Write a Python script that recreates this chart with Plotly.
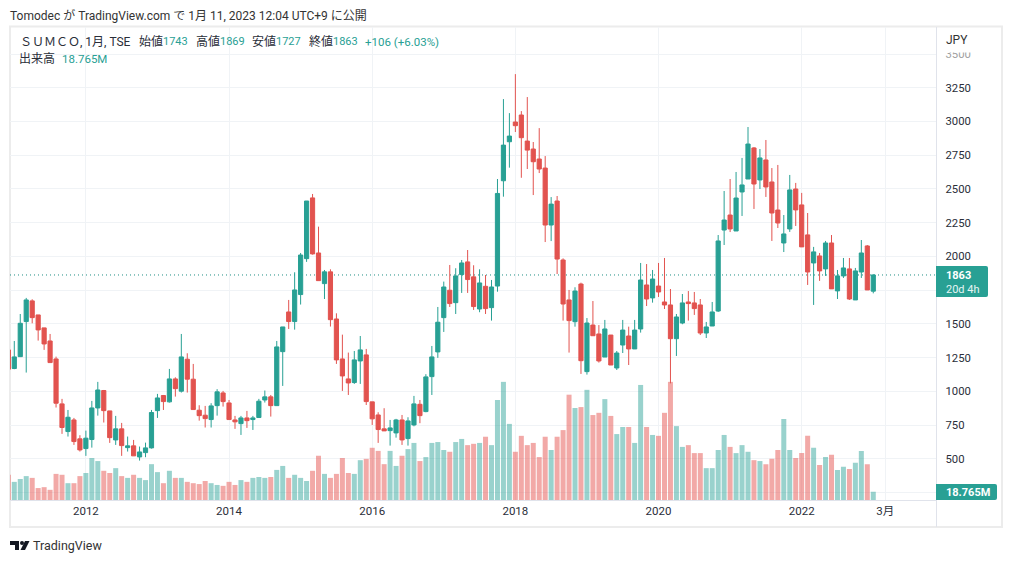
import plotly.graph_objects as go

# monthly bars, Dec 2010 .. Jan 2023
opens = [1308,
    1170, 1258, 1518, 1671, 1567, 1471, 1374, 1241, 908, 703, 789, 649,
    577, 644, 878, 1007, 856, 641, 723, 584, 597, 515, 547, 582,
    858, 970, 923, 1093, 1002, 1239, 1091, 861, 824, 792, 895, 989,
    915, 789, 762, 804, 792, 807, 937, 960, 895, 1295, 1589, 1518,
    1718, 1984, 2434, 2026, 1799, 1886, 1537, 1241, 1093, 1066, 1226, 1271,
    923, 826, 723, 710, 693, 789, 651, 752, 905, 851, 1110, 1293,
    1547, 1750, 1658, 1866, 1960, 1849, 1611, 1779, 1621, 1781, 2561, 2850,
    2996, 3048, 2855, 2796, 2722, 2655, 2233, 2411, 1974, 1678, 1517, 1796,
    1147, 1492, 1426, 1255, 1418, 1174, 1344, 1411, 1315, 1463, 1789, 1693,
    1781, 1663, 1641, 1391, 1507, 1663, 1656, 1641, 1433, 1485, 1596, 2196,
    2307, 2189, 2478, 2574, 2804, 2567, 2715, 2552, 2344, 2100, 2204, 2500,
    2382, 2160, 1952, 2004, 1908, 2100, 1745, 1856, 1908, 1678, 1885, 2078,
    1743]
highs = [1320,
    1374, 1574, 1693, 1683, 1567, 1472, 1426, 1258, 945, 863, 804, 676,
    710, 930, 1071, 1011, 856, 819, 767, 666, 641, 592, 621, 863,
    982, 974, 1167, 1105, 1426, 1283, 1204, 898, 893, 913, 1017, 1004,
    937, 819, 819, 856, 819, 945, 1007, 974, 1374, 1478, 1678, 1883,
    2026, 2411, 2463, 2221, 1900, 1905, 1579, 1421, 1288, 1300, 1411, 1315,
    923, 846, 876, 789, 797, 826, 809, 967, 937, 1128, 1337, 1626,
    1814, 1937, 1913, 1974, 2048, 1935, 1905, 1863, 1826, 2574, 3166, 3062,
    3351, 3077, 3181, 2848, 2951, 2744, 2440, 2448, 1986, 1752, 1772, 1806,
    1544, 1670, 1492, 1530, 1418, 1300, 1530, 1480, 1530, 1952, 1944, 1900,
    1952, 1989, 1759, 1574, 1722, 1744, 1737, 1685, 1515, 1663, 2159, 2485,
    2574, 2626, 2730, 2959, 2811, 2796, 2863, 2655, 2678, 2307, 2604, 2545,
    2471, 2322, 2071, 2026, 2115, 2159, 1900, 1989, 1989, 1915, 2122, 2085,
    1869]
lows = [1160,
    1165, 1255, 1140, 1505, 1377, 1308, 1214, 881, 686, 666, 604, 555,
    523, 584, 821, 770, 619, 604, 523, 555, 523, 488, 513, 577,
    804, 863, 918, 962, 992, 992, 866, 784, 733, 733, 821, 888,
    792, 723, 678, 730, 715, 807, 918, 814, 895, 1041, 1463, 1458,
    1644, 1960, 2014, 1821, 1685, 1481, 1204, 1004, 974, 1056, 1056, 900,
    752, 619, 708, 599, 658, 604, 599, 742, 765, 846, 974, 1249,
    1441, 1626, 1574, 1730, 1730, 1604, 1587, 1574, 1525, 1739, 2443, 2658,
    2922, 2583, 2648, 2455, 2618, 2107, 2114, 1870, 1525, 1288, 1480, 1130,
    1125, 1413, 1214, 1255, 1196, 1159, 1285, 1196, 1315, 1436, 1633, 1658,
    1700, 1611, 1060, 1263, 1498, 1525, 1567, 1418, 1396, 1485, 1589, 2085,
    2181, 2189, 2300, 2574, 2352, 2500, 2441, 2115, 2211, 2033, 2182, 2226,
    2071, 1789, 1641, 1819, 1856, 1760, 1685, 1841, 1678, 1678, 1841, 1752,
    1727]
closes = [1165,
    1256, 1505, 1678, 1547, 1456, 1352, 1214, 913, 733, 809, 629, 567,
    654, 878, 1011, 858, 658, 723, 599, 597, 523, 552, 582, 844,
    952, 925, 1093, 1021, 1256, 1091, 866, 821, 799, 893, 997, 925,
    792, 775, 804, 784, 804, 928, 960, 895, 1330, 1478, 1518, 1752,
    2011, 2411, 2019, 1821, 1886, 1532, 1234, 1115, 1063, 1234, 1308, 925,
    797, 718, 708, 730, 789, 641, 782, 908, 821, 1108, 1256, 1513,
    1774, 1651, 1856, 1952, 1829, 1629, 1804, 1614, 1774, 2467, 2825, 2892,
    2969, 2880, 2788, 2702, 2648, 2233, 2388, 1981, 1648, 1525, 1744, 1228,
    1507, 1413, 1226, 1463, 1196, 1285, 1455, 1315, 1455, 1826, 1685, 1833,
    1737, 1641, 1391, 1552, 1656, 1651, 1614, 1433, 1478, 1589, 2115, 2270,
    2204, 2433, 2530, 2833, 2537, 2730, 2515, 2322, 2248, 2167, 2493, 2345,
    2071, 1885, 2034, 1893, 2100, 1760, 1856, 1915, 1685, 1893, 2026, 1752,
    1863]
# volume in millions of shares
volumes = [57,
    41, 47.5, 54, 50, 27, 29, 23, 59, 57, 38, 38, 54,
    61, 95, 88, 66, 61, 72, 54, 50, 57, 50, 45, 81,
    63, 38, 66, 50, 50, 41, 38, 36, 43, 38, 34, 32,
    41, 34, 45, 41, 50, 52, 50, 52, 68, 77, 50, 57,
    50, 43, 66, 100, 59, 50, 59, 95, 61, 59, 90, 93,
    118, 111, 81, 111, 77, 100, 115, 129, 88, 97, 129, 131,
    113, 109, 131, 138, 124, 127, 129, 143, 124, 226, 267, 172,
    109, 145, 124, 129, 97, 143, 113, 143, 158, 238, 208, 210,
    249, 192, 197, 228, 190, 149, 165, 165, 129, 260, 165, 147,
    145, 197, 267, 167, 120, 124, 106, 106, 72, 72, 113, 147,
    120, 106, 124, 109, 90, 88, 81, 93, 113, 183, 113, 95,
    106, 145, 118, 79, 97, 102, 68, 75, 70, 84, 111, 81,
    18.765]

# 250 and 1750 keep their grid lines but show no label (1750 sits under the price box)
price_ticks = [250, 500, 750, 1000, 1250, 1500, 1750, 2000, 2250, 2500, 2750, 3000, 3250, 3500]
price_labels = ["", "500", "750", "1000", "1250", "1500", "", "2000", "2250", "2500", "2750", "3000", "3250",
                "<span style='color:#a0a0a0'>3500</span>"]
time_ticks = ["2012-01", "2014-01", "2016-01", "2018-01", "2020-01", "2022-01", "2023-03"]
time_labels = ["2012", "2014", "2016", "2018", "2020", "2022", "3月"]

UP = "#28a094"
DOWN = "#e2534f"
UP_VOL = "rgba(38,160,148,0.47)"
DOWN_VOL = "rgba(230,83,79,0.5)"
GRID = "#f0f3f6"
AXIS = "#e0e3eb"
TEXT = "#2a2e39"
FONT = "Roboto, Noto Sans CJK JP, sans-serif"

# months on the axis run on past the last bar so the 3月 tick exists
months = ["2010-12"] + [f"{y}-{m:02d}" for y in range(2011, 2025) for m in range(1, 13)]
bar_months = months[:len(closes)]


def px(x):
    return x / 1012


def py(y):
    return 1 - y / 563


vol_colors = [UP_VOL if c >= o else DOWN_VOL for o, c in zip(opens, closes)]

fig = go.Figure()
fig.add_trace(go.Bar(x=bar_months, y=volumes, marker=dict(color=vol_colors, line_width=0),
                     width=0.84, yaxis="y"))
fig.add_trace(go.Candlestick(x=bar_months, open=opens, high=highs, low=lows, close=closes,
                             increasing=dict(line=dict(color=UP, width=1), fillcolor=UP),
                             decreasing=dict(line=dict(color=DOWN, width=1), fillcolor=DOWN),
                             whiskerwidth=0, yaxis="y2"))

#Text segments of the header, each at its own spot
notes = []
def note(x, y, text, color=TEXT, size=12, weight=None):
    t = f"<b>{text}</b>" if weight else text
    notes.append(dict(x=px(x), y=py(y), xref="paper", yref="paper", text=t, showarrow=False,
                      borderpad=0, borderwidth=0, xanchor="left", yanchor="middle",
                      font=dict(family=FONT, size=size, color=color)))

note(10, 15, "Tomodec が TradingView.com で 1月 11, 2023 12:04 UTC+9 に公開", "#333333", 12)
note(20, 42, "ＳＵＭＣＯ, 1月, TSE")
note(139, 42, "始値")
note(163, 42, "1743", UP, 11)
note(196, 42, "高値")
note(220, 42, "1869", UP, 11)
note(252, 42, "安値")
note(276, 42, "1727", UP, 11)
note(309, 42, "終値")
note(333, 42, "1863", UP, 11)
note(365, 42, "+106 (+6.03%)", UP, 11.5)
note(19, 59, "出来高")
note(62, 59, "18.765M", UP, 11.5)
note(946, 40, "JPY", "#333333")
note(946, 275, "1863", "white", 11, True)
note(946, 289, "20d 4h", "#e6f5f3", 11)
note(946, 492, "18.765M", "white", 11, True)
note(33, 545, "TradingView", "#333333", 12.5)


def rounded_right(x0, y0, x1, y1, r=2):
    return (f"M {px(x0)} {py(y0)} L {px(x1 - r)} {py(y0)} Q {px(x1)} {py(y0)} {px(x1)} {py(y0 + r)} "
            f"L {px(x1)} {py(y1 - r)} Q {px(x1)} {py(y1)} {px(x1 - r)} {py(y1)} L {px(x0)} {py(y1)} Z")


shapes = [
    # outer frame
    dict(type="rect", xref="paper", yref="paper", x0=px(10), x1=px(1002), y0=py(527), y1=py(26.5),
         line=dict(color="#ececec", width=2), layer="below"),
    # current price line
    dict(type="line", xref="paper", yref="y2", x0=px(10), x1=px(936), y0=closes[-1], y1=closes[-1],
         line=dict(color="#1f8f84", width=1, dash="1px,3px"), layer="below"),
    # price axis line, runs down through the time axis
    dict(type="line", xref="paper", yref="paper", x0=px(936.5), x1=px(936.5), y0=py(27), y1=py(527),
         line=dict(color=AXIS, width=1)),
    # hides the top of the 3500 label, like the JPY header does
    dict(type="rect", xref="paper", yref="paper", x0=px(938), x1=px(1000), y0=py(52.5), y1=py(28),
         fillcolor="white", line_width=0),
    dict(type="path", xref="paper", yref="paper", path=rounded_right(936, 266, 988, 297), fillcolor=UP, line_width=0),
    dict(type="path", xref="paper", yref="paper", path=rounded_right(936, 484, 997, 500), fillcolor=UP, line_width=0),
    # footer logo
    dict(type="path", xref="paper", yref="paper", fillcolor="#131722", line_width=0,
         path=f"M {px(10)} {py(541)} L {px(19)} {py(541)} L {px(19)} {py(550)} L {px(15)} {py(550)} "
              f"L {px(15)} {py(545)} L {px(10)} {py(545)} Z"),
    dict(type="circle", xref="paper", yref="paper", x0=px(20), x1=px(24), y0=py(545), y1=py(541),
         fillcolor="#131722", line_width=0),
    dict(type="path", xref="paper", yref="paper", fillcolor="#131722", line_width=0,
         path=f"M {px(25)} {py(541)} L {px(29.5)} {py(541)} L {px(25)} {py(550)} L {px(20.5)} {py(550)} Z"),
]

fig.update_layout(
    width=1012, height=563,
    margin=dict(l=0, r=0, t=0, b=0),
    paper_bgcolor="white", plot_bgcolor="white",
    showlegend=False,
    boxgap=0.3, boxgroupgap=0,
    font=dict(family=FONT, size=12, color=TEXT),
    annotations=notes, shapes=shapes,
    xaxis=dict(domain=[px(10), px(936.5)], type="category", categoryorder="array", categoryarray=months,
               range=[0.28, 155.6], tickmode="array", tickvals=time_ticks, ticktext=time_labels,
               showgrid=True, gridcolor=GRID, gridwidth=1, showline=True, linecolor=AXIS, linewidth=1,
               ticks="", rangeslider=dict(visible=False), tickfont=dict(size=11.5, color=TEXT)),
    yaxis=dict(domain=[py(500), py(27)], range=[0, 1069], visible=False, showgrid=False),
    yaxis2=dict(domain=[py(500), py(27)], overlaying="y", side="right", anchor="x", range=[196, 3700],
                tickmode="array", tickvals=price_ticks, ticktext=price_labels, ticklabelstandoff=8,
                showgrid=True, gridcolor=GRID, gridwidth=1, showline=False, zeroline=False,
                ticks="", tickfont=dict(size=11.3, color=TEXT)),
)

fig.write_html("out.html", post_script="document.body.style.margin='0';", config={"displayModeBar": False})
